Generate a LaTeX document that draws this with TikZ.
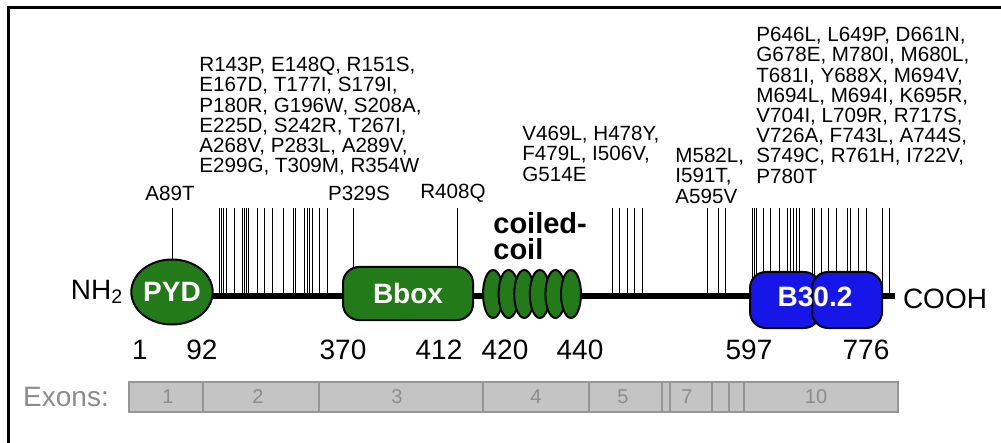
\documentclass[tikz,border=0pt]{standalone}
\usepackage{fontspec}
\setmainfont{Liberation Sans}
\usetikzlibrary{shapes.geometric}

\definecolor{domgreen}{RGB}{34,122,24}
\definecolor{domblue}{RGB}{22,22,232}
\definecolor{exonfill}{RGB}{196,196,196}
\definecolor{exonline}{RGB}{150,150,150}
\definecolor{exontext}{RGB}{140,140,140}

\tikzset{
  mutlist/.style={anchor=north west, inner sep=0pt, align=left,
    font=\fontsize{10.3}{10.1}\selectfont},
  mutlabel/.style={inner sep=0pt, font=\fontsize{10.3}{10.1}\selectfont},
  bigtext/.style={inner sep=0pt, font=\fontsize{14}{14}\selectfont},
  dombox/.style={draw=black, line width=1pt, text=white, inner sep=0pt,
    font=\bfseries\fontsize{14}{14}\selectfont},
  exonnum/.style={inner sep=0pt, text=exontext, font=\fontsize{10}{10}\selectfont}
}

\begin{document}
\begin{tikzpicture}[x=0.5pt, y=-0.5pt]
        \useasboundingbox (0,0) rectangle (1001,443);

        % Frame (left and top edge only)
        \draw[line width=1.5pt] (8,443) -- (8,8) -- (1001,8);

        % Mutation lists
        \node[mutlist] (list1) at (199,57) {R143P, E148Q, R151S,\\E167D, T177I, S179I,\\P180R, G196W, S208A,\\E225D, S242R, T267I,\\A268V, P283L, A289V,\\E299G, T309M, R354W};
        \node[mutlist] (list2) at (522,126) {V469L, H478Y,\\F479L, I506V,\\G514E};
        \node[mutlist] (list3) at (675,148) {M582L,\\I591T,\\A595V};
        \node[mutlist] (list4) at (756,27) {P646L, L649P, D661N,\\G678E, M780I, M680L,\\T681I, Y688X, M694V,\\M694L, M694I, K695R,\\V704I, L709R, R717S,\\V726A, F743L, A744S,\\S749C, R761H, I722V,\\P780T};

        % Single mutations
        \node[mutlabel] (a89t) at (170,193) {A89T};
        \node[mutlabel] (p329s) at (359,193) {P329S};
        \node[mutlabel] (r408q) at (453,193) {R408Q};

        % Tickmarks, one per mutation (drawn under the domains)
        \foreach \x in {172,219,221,223,226,234,242,244,246,248,257,264,272,283,293,295,304,307,309,312,319,327,353,457}
          \draw[line width=0.5pt] (\x,208)--(\x,296);
        \foreach \x in {612,619,627,634,642,707,718,725}
          \draw[line width=0.5pt] (\x,208)--(\x,296);
        \foreach \x in {752,754,756,763,770,779,787,790,793,796,799,812,814,821,828,836,847,850,858,866,882,889}
          \draw[line width=0.5pt] (\x,208)--(\x,296);

        % Backbone
        \coordinate (cstart) at (172,296);
        \coordinate (cend) at (895,296);
        \draw[line width=3pt] (cstart) -- (cend);

        % Domains
        \node[dombox, ellipse, fill=domgreen, minimum width=40pt, minimum height=32.5pt] (pyd) at (172,292) {PYD};
        \node[dombox, fill=domgreen, rounded corners=8pt, minimum width=65pt, minimum height=26.5pt] (bbox) at (408,293.5) {Bbox};
        \foreach \i in {0,...,5}
          \node[dombox, ellipse, fill=domgreen, minimum width=10pt, minimum height=24pt] (cc\i) at ({493+15.6*\i},294) {};
        \node[dombox, fill=domblue, rounded corners=8pt, minimum width=35pt, minimum height=28pt] (bA) at (785,300) {};
        \node[dombox, fill=domblue, rounded corners=8pt, minimum width=35pt, minimum height=28pt] (bB) at (847,300) {};
        \node[dombox, draw=none] (b302) at (815,297) {B30.2};

        \node[anchor=north west, inner sep=0pt, align=left, font=\bfseries\fontsize{14.5}{13}\selectfont] (coil) at (493,212) {coiled-\\coil};

        % Termini
        \node[bigtext] (nh2) at (97,292) {NH\textsubscript{2}};
        \node[bigtext] (cooh) at (945,299) {COOH};

        % Residue numbers
        \foreach \x/\n in {140/1, 202/92, 343/370, 439/412, 505/420, 580/440, 749/597, 866/776}
          \node[bigtext] at (\x,350) {\n};

        % Exons
        \node[bigtext, text=exontext] (exons) at (66,397) {Exons:};
        \draw[exonline, fill=exonfill, line width=0.8pt] (129,382) rectangle (898,412);
        \foreach \x in {203,319,483,589,662,670,712,729,744}
          \draw[exonline, line width=0.8pt] (\x,382)--(\x,412);
        \foreach \x/\n in {168/1, 258/2, 397/3, 536/4, 623/5, 687/7, 816/10}
          \node[exonnum] at (\x,397) {\n};
\end{tikzpicture}
\end{document}
